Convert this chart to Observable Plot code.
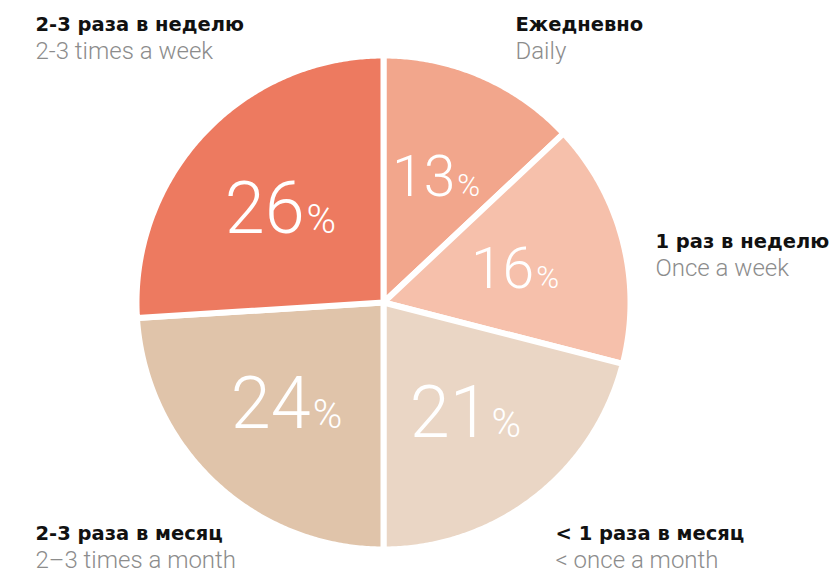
<!DOCTYPE html>
<html>
<head>
<meta charset="utf-8">
<script src="https://cdn.jsdelivr.net/npm/d3@7"></script>
<script src="https://cdn.jsdelivr.net/npm/@observablehq/plot@0.6"></script>
<style>
  html, body { margin: 0; padding: 0; background: #ffffff; }
  #chart { width: 831px; height: 572px; }
</style>
</head>
<body>
<div id="chart"></div>
<script>
// ---- data ----
const labelsRu = ["Ежедневно", "1 раз в неделю", "< 1 раза в месяц", "2-3 раза в месяц", "2-3 раза в неделю"];
const labelsEn = ["Daily", "Once a week", "< once a month", "2–3 times a month", "2-3 times a week"];
const shares = [13, 16, 21, 24, 26];
const colors = ["#f2a68c", "#f6c0ab", "#ead6c5", "#e0c4aa", "#ed7a60"];

// ---- layout (pixels) ----
const W = 831, H = 572;
const CX = 383, CY = 302;      // pie centre
const U = 247;                 // pixels per data unit (pie radius incl. white edge)
const labelPx = [              // category label anchors (start, bold baseline)
  [515, 30], [655, 247], [555, 539], [35, 539], [35, 30]
];
const lineGap = 28;
const toX = px => (px - CX) / U;
const toY = py => (CY - py) / U;

const arcs = d3.pie().sort(null).value(d => d)(shares);

// slice polygons
const slicePts = [];
arcs.forEach((a, i) => {
  const cat = labelsRu[i];
  slicePts.push({cat, x: 0, y: 0});
  const n = Math.ceil((a.endAngle - a.startAngle) / (Math.PI / 360));
  for (let k = 0; k <= n; k++) {
    const t = a.startAngle + (a.endAngle - a.startAngle) * k / n;
    slicePts.push({cat, x: Math.sin(t), y: Math.cos(t)});
  }
  slicePts.push({cat, x: 0, y: 0});
});

// value labels
const valueLabels = arcs.map((a, i) => {
  const mid = (a.startAngle + a.endAngle) / 2;
  const big = shares[i] >= 20;
  const fs = big ? 72 : 57;
  const r = 0.565 * 244 / U;
  const cx = r * Math.sin(mid), cy = r * Math.cos(mid);
  return {
    num: String(shares[i]),
    fs, pfs: big ? 40 : 31,
    x: cx + 0.30 * fs / U,
    y: cy - 0.35 * fs / U
  };
});

const catLabels = labelsRu.map((t, i) => ({
  ru: t, en: labelsEn[i], x: toX(labelPx[i][0]), y: toY(labelPx[i][1])
}));

const chart = Plot.plot({
  width: W, height: H, margin: 0,
  style: {background: "#ffffff", overflow: "visible"},
  x: {domain: [toX(0), toX(W)], axis: null},
  y: {domain: [toY(H), toY(0)], axis: null},
  color: {domain: labelsRu, range: colors},
  marks: [
    Plot.line(slicePts, {x: "x", y: "y", z: "cat", fill: "cat", stroke: "#ffffff", strokeWidth: 6, strokeLinejoin: "round", curve: "linear"}),
    Plot.text(valueLabels, {x: "x", y: "y", text: "num", fontSize: "fs", textAnchor: "end", lineAnchor: "bottom", fill: "#ffffff", fontFamily: "Roboto", fontWeight: 300}),
    Plot.text(valueLabels, {x: "x", y: "y", text: () => "%", fontSize: "pfs", textAnchor: "start", lineAnchor: "bottom", dx: 2, fill: "#ffffff", fontFamily: "Roboto", fontWeight: 300}),
    Plot.text(catLabels, {x: "x", y: "y", text: "ru", textAnchor: "start", lineAnchor: "bottom", fontSize: 19.5, fontWeight: "bold", fontFamily: "DejaVu Sans, sans-serif", fill: "#111111"}),
    Plot.text(catLabels, {x: "x", y: "y", text: "en", textAnchor: "start", lineAnchor: "bottom", dy: lineGap, fontSize: 24, fontWeight: 300, fontFamily: "Roboto", fill: "#8c8c8c"})
  ]
});
document.getElementById("chart").appendChild(chart);
</script>
</body>
</html>
